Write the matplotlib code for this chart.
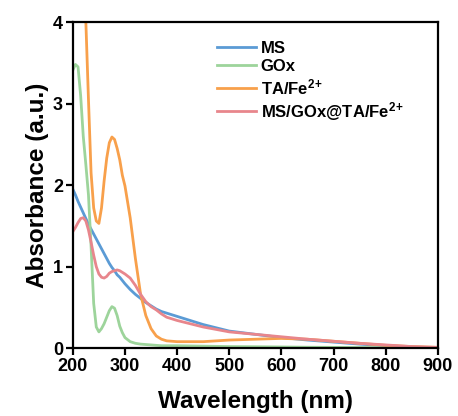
import matplotlib
matplotlib.use("Agg")
import matplotlib.pyplot as plt

plt.rcParams['font.family'] = ['Liberation Sans', 'DejaVu Sans']
plt.rcParams['font.weight'] = 'bold'
plt.rcParams['mathtext.fontset'] = 'custom'
plt.rcParams['mathtext.rm'] = 'Liberation Sans:bold'
plt.rcParams['mathtext.bf'] = 'Liberation Sans:bold'
plt.rcParams['mathtext.default'] = 'bf'

wavelength = [200, 205, 210, 215, 220, 225, 230, 235, 240, 245, 250, 255, 260, 265, 270,
              275, 280, 285, 290, 295, 300, 310, 320, 330, 340, 350, 360, 370, 380, 400,
              450, 500, 550, 600, 650, 700, 750, 800, 850, 900]

ms = [1.95, 1.88, 1.80, 1.73, 1.66, 1.59, 1.52, 1.46, 1.40, 1.34, 1.28, 1.22, 1.16, 1.10, 1.04,
      0.99, 0.95, 0.90, 0.87, 0.83, 0.79, 0.72, 0.66, 0.61, 0.56, 0.52, 0.48, 0.45, 0.43, 0.39,
      0.29, 0.21, 0.17, 0.13, 0.10, 0.075, 0.05, 0.03, 0.015, 0.005]

gox = [3.41, 3.48, 3.45, 3.10, 2.60, 2.25, 1.88, 1.25, 0.55, 0.26, 0.20, 0.24, 0.30, 0.38, 0.46,
       0.51, 0.49, 0.40, 0.27, 0.19, 0.13, 0.08, 0.06, 0.05, 0.045, 0.04, 0.035, 0.03, 0.03, 0.03,
       0.025, 0.02, 0.018, 0.015, 0.012, 0.01, 0.008, 0.005, 0.003, 0.0]

ta_fe = [4.20, 4.50, 4.70, 4.60, 4.35, 4.00, 3.05, 2.15, 1.72, 1.56, 1.53, 1.72, 2.05, 2.33, 2.52,
         2.59, 2.56, 2.45, 2.31, 2.12, 1.99, 1.60, 1.10, 0.66, 0.40, 0.24, 0.15, 0.11, 0.09, 0.08,
         0.08, 0.10, 0.11, 0.12, 0.11, 0.085, 0.06, 0.035, 0.02, 0.01]

ms_gox_ta = [1.43, 1.48, 1.54, 1.59, 1.60, 1.56, 1.45, 1.30, 1.14, 1.00, 0.91, 0.87, 0.86, 0.88, 0.92,
             0.94, 0.95, 0.96, 0.95, 0.93, 0.91, 0.86, 0.77, 0.66, 0.57, 0.51, 0.47, 0.42, 0.38, 0.34,
             0.26, 0.20, 0.17, 0.14, 0.11, 0.085, 0.06, 0.04, 0.02, 0.01]

labels = ['MS', 'GOx', r'TA/Fe$^{2\!+}$', r'MS/GOx@TA/Fe$^{2\!+}$']
colors = ['#5b9bd5', '#9dd49b', '#f8a04b', '#e8868c']
series = [ms, gox, ta_fe, ms_gox_ta]

fig = plt.figure(figsize=(4.58, 4.16), dpi=100)
ax = fig.add_axes([0.159, 0.163, 0.797, 0.784])

for y, c, lab in zip(series, colors, labels):
    ax.plot(wavelength, y, color=c, lw=2.0, label=lab)

ax.set_xlim(200, 900)
ax.set_ylim(0, 4)
ax.set_xticks([200, 300, 400, 500, 600, 700, 800, 900])
ax.set_yticks([0, 1, 2, 3, 4])
for s in ax.spines.values():
    s.set_linewidth(1.6)
ax.tick_params(axis='both', direction='out', length=5, width=1.6, labelsize=13, pad=2)
for t in ax.get_xticklabels() + ax.get_yticklabels():
    t.set_fontweight('bold')
ax.set_xlabel('Wavelength (nm)', fontsize=17.5, fontweight='bold', labelpad=11)
ax.set_ylabel('Absorbance (a.u.)', fontsize=17.5, fontweight='bold', labelpad=3)

leg = ax.legend(loc='upper left', bbox_to_anchor=(0.378, 0.962), borderaxespad=0,
                frameon=False, fontsize=12, handlelength=2.3, handletextpad=0.3,
                labelspacing=0.18)
for t in leg.get_texts():
    t.set_fontweight('bold')

fig.savefig('out.png', dpi=100)
